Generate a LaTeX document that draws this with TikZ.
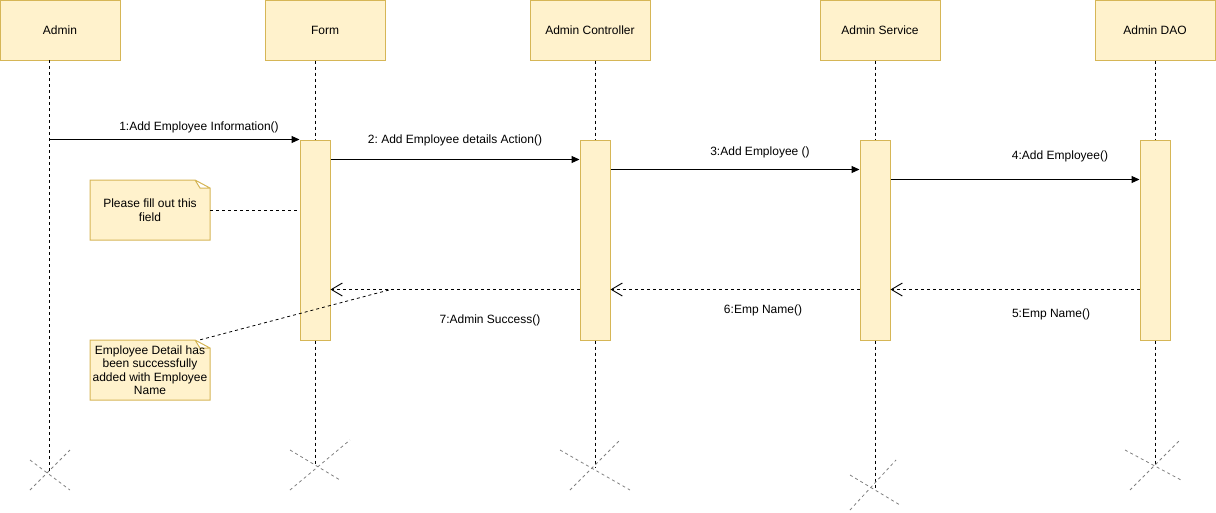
\documentclass[tikz,border=0pt]{standalone}
\usepackage{fontspec}
\setmainfont{Liberation Sans}
\usetikzlibrary{arrows.meta}
\definecolor{notefill}{HTML}{FFF2CC}
\definecolor{notedraw}{HTML}{D6B656}
\frenchspacing

\begin{document}
\begin{tikzpicture}[x=1pt,y=-1pt,
	font=\fontsize{12}{13.5}\selectfont,
	actor/.style={draw=notedraw,fill=notefill,line width=1pt,minimum width=120pt,minimum height=60pt,inner sep=0pt},
	bar/.style={draw=notedraw,fill=notefill,line width=1pt,minimum width=30pt,minimum height=200pt,inner sep=0pt},
	life/.style={line width=0.8pt,dash pattern=on 3pt off 3pt},
	cross/.style={line width=0.8pt,gray,dash pattern=on 3pt off 3pt},
	call/.style={line width=1pt,-{Triangle[length=8pt,width=7pt]}},
	reply/.style={line width=0.9pt,dash pattern=on 3pt off 3pt,-{Straight Barb[length=11pt,width=13pt]}},
	lbl/.style={inner sep=0pt},
	notetext/.style={align=center,minimum width=120pt,minimum height=60pt,inner sep=1pt},
	notebox/.style={draw=notedraw,fill=notefill,line width=1pt}]
	\useasboundingbox (0,0) rectangle (1216,512);
	% notes
	\foreach \c in {210,370}
	\draw[notebox] (90,\c-30) -- (195,\c-30) -- (210,\c-22) -- (210,\c+30) -- (90,\c+30) -- cycle
	(195,\c-30) -- (200,\c-22) -- (210,\c-22);
	\node[notetext] (note1) at (150,210) {Please fill out this\\field};
	\node[notetext] (note2) at (150,370) {Employee Detail has\\been successfully\\added with Employee\\Name};
	% heads and activation bars
	\node[actor] (admin) at (60,30) {Admin};
	\node[actor] (form) at (325,30) {Form};
	\node[actor] (ctrl) at (590,30) {Admin Controller};
	\node[actor] (service) at (880,30) {Admin Service};
	\node[actor] (dao) at (1155,30) {Admin DAO};
	\coordinate (admintop) at (49,60);
	\coordinate (adminend) at (49,474);
	\draw[life] (admintop) -- (adminend);
	\foreach \b/\h/\x/\e in {formbar/form/315/466, ctrlbar/ctrl/595/468, servicebar/service/875/488, daobar/dao/1155/465}{
		\node[bar] (\b) at (\x,240) {};
		\coordinate (\b end) at (\x,\e);
		\draw[life] (\b.north |- \h.south) -- (\b.north) (\b.south) -- (\b end);
	}
	% life ends
	\foreach \a/\b/\c/\d/\e/\f/\g/\h in {30/460/70/490/30/490/70/450, 290/450/340/480/290/490/350/440,
		560/450/630/490/570/490/620/440, 850/475/900/505/850/510/896/460, 1125/450/1181/480/1130/490/1179/441}
	\draw[cross] (\a,\b) -- (\c,\d) (\e,\f) -- (\g,\h);
	% messages
	\path (formbar.north east) ++(0,20) coordinate (m2);
	\path (ctrlbar.north east) ++(0,30) coordinate (m3);
	\path (servicebar.north east) ++(0,40) coordinate (m4);
	\path (daobar.north west) ++(0,150) coordinate (r5);
	\path (servicebar.north west) ++(0,150) coordinate (r6);
	\path (ctrlbar.north west) ++(0,150) coordinate (r7);
	\draw[call] (admintop |- formbar.north) -- (formbar.north west);
	\draw[call] (m2) -- (m2 -| ctrlbar.west);
	\draw[call] (m3) -- (m3 -| servicebar.west);
	\draw[call] (m4) -- (m4 -| daobar.west);
	\draw[reply] (r5) -- (r5 -| servicebar.east);
	\draw[reply] (r6) -- (r6 -| ctrlbar.east);
	\draw[reply] (r7) -- (r7 -| formbar.east);
	\foreach \n/\x/\y/\t in {l1/199/127/{1:Add Employee Information()}, l2/455/140/{2: Add Employee details Action()},
		l3/760/152/{3:Add Employee ()}, l4/1060/156/{4:Add Employee()}, l5/1051/314/{5:Emp Name()},
		l6/763/310/{6:Emp Name()}, l7/490/320/{7:Admin Success()}}
	\node[lbl] (\n) at (\x,\y) {\t};
	% note links
	\coordinate (succ) at (389,290);
	\draw[life] (note1.east) -- (note1.east -| formbar.west);
	\draw[life] ([xshift=-10pt]note2.north east) -- (succ);
\end{tikzpicture}
\end{document}
